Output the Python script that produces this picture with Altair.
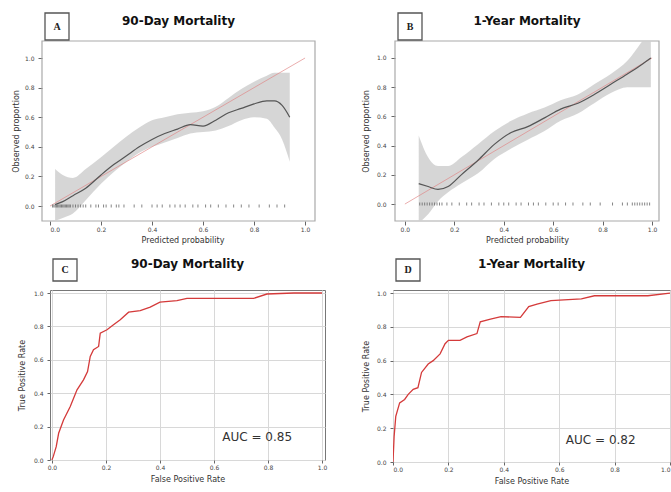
import altair as alt
import pandas as pd

FONT = "DejaVu Sans"

# ---------------- Panel A: 90-day calibration ----------------
a_x = [0.02, 0.05, 0.09, 0.14, 0.20, 0.25, 0.30, 0.35, 0.40, 0.45, 0.50, 0.55,
       0.60, 0.65, 0.70, 0.75, 0.80, 0.85, 0.88, 0.91, 0.94]
a_fit = [0.01, 0.03, 0.07, 0.12, 0.21, 0.28, 0.34, 0.40, 0.45, 0.49, 0.52, 0.55,
         0.54, 0.58, 0.63, 0.66, 0.69, 0.71, 0.71, 0.68, 0.60]
a_lo = [-0.10, -0.08, -0.05, 0.04, 0.15, 0.23, 0.30, 0.36, 0.40, 0.43, 0.46, 0.49,
        0.50, 0.51, 0.54, 0.58, 0.60, 0.59, 0.53, 0.45, 0.30]
a_hi = [0.25, 0.21, 0.19, 0.25, 0.33, 0.40, 0.47, 0.53, 0.58, 0.60, 0.62, 0.63,
        0.64, 0.67, 0.73, 0.79, 0.84, 0.88, 0.90, 0.90, 0.90]
a_rug = [0.01, 0.015, 0.02, 0.025, 0.03, 0.035, 0.04, 0.045, 0.05, 0.055, 0.06,
         0.065, 0.07, 0.075, 0.08, 0.09, 0.10, 0.11, 0.12, 0.13, 0.14, 0.16, 0.18,
         0.19, 0.21, 0.22, 0.24, 0.26, 0.27, 0.29, 0.33, 0.36, 0.40, 0.42, 0.44,
         0.47, 0.49, 0.51, 0.53, 0.56, 0.58, 0.61, 0.63, 0.66, 0.69, 0.72, 0.75,
         0.78, 0.82, 0.86, 0.89, 0.92]

# ---------------- Panel B: 1-year calibration ----------------
b_x = [0.056, 0.094, 0.134, 0.175, 0.228, 0.296, 0.363, 0.43, 0.497, 0.565, 0.63,
       0.70, 0.766, 0.833, 0.90, 0.954, 0.995]
b_fit = [0.14, 0.12, 0.10, 0.12, 0.20, 0.30, 0.41, 0.49, 0.53, 0.59, 0.65,
         0.69, 0.75, 0.82, 0.89, 0.95, 1.00]
b_lo = [-0.13, -0.07, 0.02, 0.08, 0.14, 0.21, 0.31, 0.38, 0.44, 0.50, 0.57,
        0.62, 0.69, 0.76, 0.80, 0.80, 0.80]
b_hi = [0.47, 0.32, 0.26, 0.26, 0.32, 0.41, 0.50, 0.57, 0.62, 0.66, 0.71,
        0.75, 0.82, 0.89, 0.98, 1.10, 1.20]
b_rug = [0.06, 0.07, 0.08, 0.09, 0.10, 0.11, 0.12, 0.13, 0.14, 0.15, 0.17, 0.19,
         0.22, 0.25, 0.27, 0.30, 0.32, 0.35, 0.38, 0.40, 0.42, 0.45, 0.47, 0.50,
         0.52, 0.54, 0.57, 0.60, 0.62, 0.65, 0.68, 0.72, 0.75, 0.79, 0.84, 0.88,
         0.90, 0.92, 0.93, 0.94, 0.95, 0.96, 0.97, 0.98, 0.99]

diag = [0.0, 1.0]

# ---------------- Panel C: 90-day ROC ----------------
c_fpr = [0.0, 0.005, 0.016, 0.025, 0.043, 0.068, 0.093, 0.117, 0.132, 0.142,
         0.154, 0.173, 0.179, 0.204, 0.228, 0.253, 0.284, 0.327, 0.364, 0.40,
         0.463, 0.50, 0.60, 0.70, 0.747, 0.796, 0.895, 1.0]
c_tpr = [0.0, 0.02, 0.08, 0.16, 0.24, 0.32, 0.42, 0.48, 0.53, 0.62,
         0.66, 0.68, 0.76, 0.78, 0.81, 0.84, 0.885, 0.895, 0.915, 0.945,
         0.954, 0.968, 0.968, 0.968, 0.968, 0.994, 1.0, 1.0]
c_auc = "AUC = 0.85"

# ---------------- Panel D: 1-year ROC ----------------
d_fpr = [0.0, 0.004, 0.01, 0.024, 0.042, 0.055, 0.073, 0.09, 0.103, 0.127,
         0.145, 0.17, 0.188, 0.20, 0.242, 0.267, 0.303, 0.315, 0.352, 0.39,
         0.46, 0.49, 0.52, 0.57, 0.68, 0.727, 0.92, 1.0]
d_tpr = [0.0, 0.15, 0.27, 0.35, 0.37, 0.40, 0.43, 0.44, 0.53, 0.58,
         0.60, 0.64, 0.70, 0.72, 0.72, 0.74, 0.76, 0.83, 0.846, 0.86,
         0.856, 0.92, 0.935, 0.955, 0.965, 0.984, 0.984, 1.0]
d_auc = "AUC = 0.82"

ticks = [0.0, 0.2, 0.4, 0.6, 0.8, 1.0]


def axis(title, tick_size, label_pad, title_pad, grid=False, flush=False, offset=0):
    kw = dict(title=title, values=ticks, format=".1f", grid=grid, domain=False,
              tickSize=tick_size, tickColor="#666", labelPadding=label_pad,
              labelFont=FONT, labelFontSize=6, labelColor="#444",
              titleFont=FONT, titleFontSize=8, titleFontWeight="normal",
              titleColor="#333", titlePadding=title_pad,
              gridColor="#d8d8d8", gridWidth=1)
    if flush:
        kw["labelFlush"] = True
    if offset:
        kw["offset"] = offset
    return alt.Axis(**kw)


def header(letter, title, box_x, box_y, title_x, title_y):
    d = pd.DataFrame({"lab": [letter], "ttl": [title]})
    base = alt.Chart(d)
    box = base.mark_rect(fill="white", stroke="#555", strokeWidth=1.3).encode(
        x=alt.value(box_x), x2=alt.value(box_x + 24),
        y=alt.value(box_y[0]), y2=alt.value(box_y[1]))
    lab = base.mark_text(font="Liberation Serif", fontSize=10, fontWeight="bold",
                         color="#222").encode(
        x=alt.value(box_x + 12), y=alt.value((box_y[0] + box_y[1]) / 2), text="lab:N")
    ttl = base.mark_text(font=FONT, fontSize=12, fontWeight="bold", color="#111").encode(
        x=alt.value(title_x), y=alt.value(title_y), text="ttl:N")
    return [box, lab, ttl]


def calib(letter, title, xs, fit, lo, hi, rug, xdom, ydom, w, h, ax_x, ax_y, left_gap=0):
    """left_gap: the frame starts this many pixels left of the plot area."""
    df = pd.DataFrame({"x": xs, "fit": fit, "lo": lo, "hi": hi})
    dd = pd.DataFrame({"x": diag, "y": diag})
    rd = pd.DataFrame({"x": rug, "y": [0.0] * len(rug)})
    sx = alt.Scale(domain=xdom, nice=False, zero=False)
    sy = alt.Scale(domain=ydom, nice=False, zero=False)

    def X(f):
        return alt.X(f, type="quantitative", scale=sx, axis=ax_x)

    def Y(f):
        return alt.Y(f, type="quantitative", scale=sy, axis=ax_y)

    band = alt.Chart(df).mark_area(color="#cfcfcf", opacity=0.85, clip=True,
                                   interpolate="monotone").encode(
        x=X("x"), y=Y("lo"), y2="hi")
    dline = alt.Chart(dd).mark_line(color="#e08585", strokeWidth=0.9, opacity=0.75,
                                    clip=True).encode(x=X("x"), y=Y("y"))
    fline = alt.Chart(df).mark_line(color="#555", strokeWidth=1.2, clip=True,
                                    interpolate="monotone").encode(x=X("x"), y=Y("fit"))
    rugm = alt.Chart(rd).mark_tick(color="#666", thickness=1, size=3, opacity=0.8,
                                   clip=True).encode(x=X("x"), y=Y("y"))
    frame = alt.Chart(pd.DataFrame({"a": [0]})).mark_rect(
        fillOpacity=0, stroke="#aaa", strokeWidth=1.2).encode(
        x=alt.value(-left_gap), x2=alt.value(w), y=alt.value(0), y2=alt.value(h))
    layers = [frame, band, dline, fline, rugm] + header(
        letter, title, 3 - left_gap, (-28, -1), (w - left_gap) / 2, -20)
    return alt.layer(*layers).properties(
        width=w, height=h, view=alt.ViewBackground(stroke="transparent"))


def roc(letter, title, fpr, tpr, auc, auc_pos, xdom, ydom, w, h, ax_x, ax_y):
    df = pd.DataFrame({"fpr": fpr, "tpr": tpr, "i": list(range(len(fpr)))})
    ad = pd.DataFrame({"x": [auc_pos[0]], "y": [auc_pos[1]], "t": [auc]})
    sx = alt.Scale(domain=xdom, nice=False, zero=False)
    sy = alt.Scale(domain=ydom, nice=False, zero=False)
    line = alt.Chart(df).mark_line(color="#d43a3a", strokeWidth=1.3, clip=True).encode(
        x=alt.X("fpr:Q", scale=sx, axis=ax_x),
        y=alt.Y("tpr:Q", scale=sy, axis=ax_y),
        order="i:Q")
    txt = alt.Chart(ad).mark_text(font=FONT, fontSize=12, color="#333").encode(
        x=alt.X("x:Q", scale=sx, axis=ax_x), y=alt.Y("y:Q", scale=sy, axis=ax_y), text="t:N")
    layers = [line, txt] + header(letter, title, 3, (-31, -9), w / 2, -26)
    return alt.layer(*layers).properties(
        width=w, height=h, view=alt.ViewBackground(stroke="#777", strokeWidth=1))


# A: frame spans x 42..315, plot area (0.0 tick) starts at 50
A = calib("A", "90-Day Mortality", a_x, a_fit, a_lo, a_hi, a_rug,
          [0.0, 1.039], [-0.101, 1.115], 265, 180,
          axis("Predicted probability", 4, 1, 4),
          axis("Observed proportion", 4, 4, 4, offset=8), left_gap=8)
B = calib("B", "1-Year Mortality", b_x, b_fit, b_lo, b_hi, b_rug,
          [-0.040, 1.028], [-0.116, 1.116], 264, 180,
          axis("Predicted probability", 4, 1, 4),
          axis("Observed proportion", 4, 5, 6))
C = roc("C", "90-Day Mortality", c_fpr, c_tpr, c_auc, (0.76, 0.14),
        [-0.007, 1.011], [0.0, 1.018], 275, 170,
        axis("False Positive Rate", 3, 1, 5, grid=True),
        axis("True Positive Rate", 3, 4, 7, grid=True))
D = roc("D", "1-Year Mortality", d_fpr, d_tpr, d_auc, (0.75, 0.13),
        [0.0, 1.0], [0.0, 1.018], 277, 172,
        axis("False Positive Rate", 3, 1, 5, grid=True, flush=True),
        axis("True Positive Rate", 3, 4, 6, grid=True))

chart = alt.concat(A, B, C, D, columns=2, align="none",
                   spacing=alt.RowColnumber(row=12, column=33)).properties(
    padding={"left": 11, "top": 11, "right": 0, "bottom": 0},
    background="white",
)

chart.save("out.html", embed_options={"renderer": "svg", "actions": False})
